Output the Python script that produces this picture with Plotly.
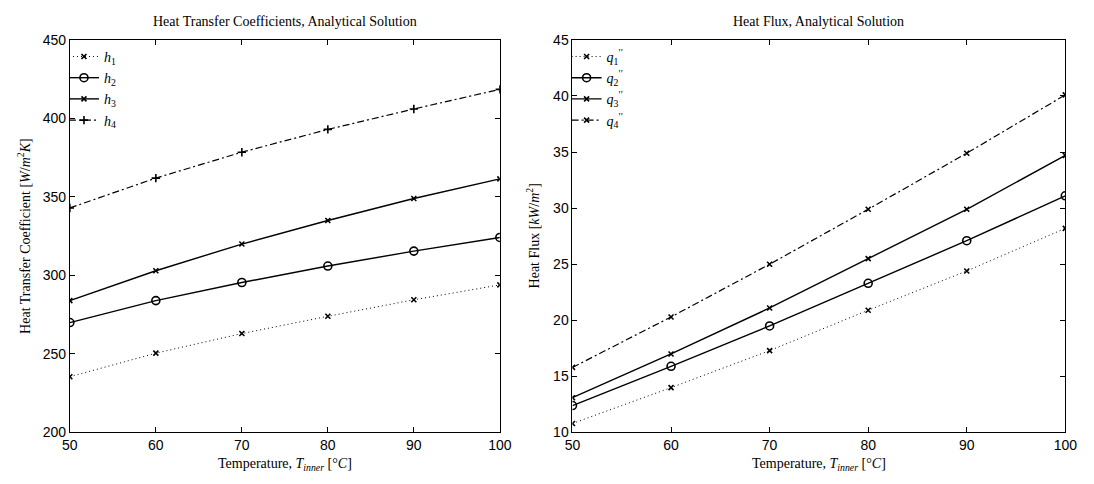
import plotly.graph_objects as go

temps = [50, 60, 70, 80, 90, 100]

h1 = [235.5, 250.5, 263, 274, 284.5, 294]
h2 = [270, 284, 295.5, 306, 315.5, 324.2]
h3 = [284, 303, 320, 335, 349, 361.5]
h4 = [343, 362, 378.5, 393, 406, 418.5]

q1 = [10.8, 14.0, 17.3, 20.9, 24.4, 28.2]
q2 = [12.4, 15.9, 19.5, 23.3, 27.1, 31.1]
q3 = [13.1, 17.0, 21.1, 25.5, 29.9, 34.7]
q4 = [15.8, 20.3, 25.0, 29.9, 34.9, 40.1]

h_names = ["<i>h</i><sub>1</sub>", "<i>h</i><sub>2</sub>", "<i>h</i><sub>3</sub>", "<i>h</i><sub>4</sub>"]
q_names = ["<i>q</i><sub>1</sub><sup>′′</sup>", "<i>q</i><sub>2</sub><sup>′′</sup>",
           "<i>q</i><sub>3</sub><sup>′′</sup>", "<i>q</i><sub>4</sub><sup>′′</sup>"]

SERIF = "Liberation Serif"
SANS = "Liberation Sans"

dotted = "1px,3px"
dashdot = "7px,3px,2px,3px"
h_styles = [
    dict(dash=dotted, width=1, symbol="x-thin", size=5),
    dict(dash="solid", width=1.4, symbol="circle-open", size=8),
    dict(dash="solid", width=1.4, symbol="x-thin", size=5),
    dict(dash=dashdot, width=1.2, symbol="cross-thin", size=6),
]
q_styles = [
    dict(dash=dotted, width=1, symbol="x-thin", size=5),
    dict(dash="solid", width=1.4, symbol="circle-open", size=8),
    dict(dash="solid", width=1.4, symbol="x-thin", size=5),
    dict(dash=dashdot, width=1.2, symbol="x-thin", size=5),
]

fig = go.Figure()

for name, ys, st in zip(h_names, [h1, h2, h3, h4], h_styles):
    fig.add_trace(go.Scatter(
        x=temps, y=ys, name=name, mode="lines+markers",
        line=dict(color="black", width=st["width"], dash=st["dash"]),
        marker=dict(symbol=st["symbol"], size=st["size"], color="black",
                    line=dict(color="black", width=1.6)),
        xaxis="x", yaxis="y", legend="legend"))

for name, ys, st in zip(q_names, [q1, q2, q3, q4], q_styles):
    fig.add_trace(go.Scatter(
        x=temps, y=ys, name=name, mode="lines+markers",
        line=dict(color="black", width=st["width"], dash=st["dash"]),
        marker=dict(symbol=st["symbol"], size=st["size"], color="black",
                    line=dict(color="black", width=1.6)),
        xaxis="x2", yaxis="y2", legend="legend2"))

W, H = 1094, 484
L1, R1 = 63, 501
L2, R2 = 575, 1077
T, B = 33, 439

axis_common = dict(showgrid=False, zeroline=False, showline=True, linecolor="black",
                   linewidth=1, mirror="ticks", ticks="inside", ticklen=5,
                   tickcolor="black", tickfont=dict(family=SANS, size=14, color="black"))

legend_common = dict(xanchor="left", yanchor="top", bgcolor="rgba(0,0,0,0)", borderwidth=0,
                     itemwidth=30, font=dict(family=SERIF, size=14, color="black"),
                     tracegroupgap=0)

fig.update_layout(
    width=W, height=H,
    margin=dict(l=0, r=0, t=0, b=0),
    paper_bgcolor="white", plot_bgcolor="white",
    xaxis=dict(domain=[L1 / W, R1 / W], range=[50, 100], dtick=10, anchor="y", **axis_common),
    yaxis=dict(domain=[1 - B / H, 1 - T / H], range=[200, 450], dtick=50, anchor="x", **axis_common),
    xaxis2=dict(domain=[L2 / W, R2 / W], range=[50, 100], dtick=10, anchor="y2", **axis_common),
    yaxis2=dict(domain=[1 - B / H, 1 - T / H], range=[10, 45], dtick=5, anchor="x2", **axis_common),
    legend=dict(x=(L1 - 6) / W, y=1 - (T + 1) / H, **legend_common),
    legend2=dict(x=(L2 - 6) / W, y=1 - (T + 1) / H, **legend_common),
    showlegend=True,
)

ann_font = dict(family=SERIF, size=14, color="black")
annotations = [
    dict(text="Heat Transfer Coefficients, Analytical Solution", x=(L1 + R1) / 2 / W, y=1 - 14 / H,
         xref="paper", yref="paper", showarrow=False, font=ann_font, xanchor="center", yanchor="middle"),
    dict(text="Heat Flux, Analytical Solution", x=(L2 + R2) / 2 / W, y=1 - 14 / H,
         xref="paper", yref="paper", showarrow=False, font=ann_font, xanchor="center", yanchor="middle"),
    dict(text="Temperature, <i>T<sub>inner</sub></i> [°<i>C</i>]", x=(L1 + R1) / 2 / W, y=1 - 472 / H,
         xref="paper", yref="paper", showarrow=False, font=ann_font, xanchor="center", yanchor="middle"),
    dict(text="Temperature, <i>T<sub>inner</sub></i> [°<i>C</i>]", x=(L2 + R2) / 2 / W, y=1 - 472 / H,
         xref="paper", yref="paper", showarrow=False, font=ann_font, xanchor="center", yanchor="middle"),
    dict(text="Heat Transfer Coefficient [<i>W</i>/<i>m</i><sup>2</sup><i>K</i>]", x=17 / W, y=1 - (T + B) / 2 / H,
         xref="paper", yref="paper", showarrow=False, font=ann_font, textangle=-90,
         xanchor="center", yanchor="middle"),
    dict(text="Heat Flux [<i>kW</i>/<i>m</i><sup>2</sup>]", x=535 / W, y=1 - (T + B) / 2 / H,
         xref="paper", yref="paper", showarrow=False, font=ann_font, textangle=-90,
         xanchor="center", yanchor="middle"),
]
fig.update_layout(annotations=annotations)

fig.write_html("out.html")
